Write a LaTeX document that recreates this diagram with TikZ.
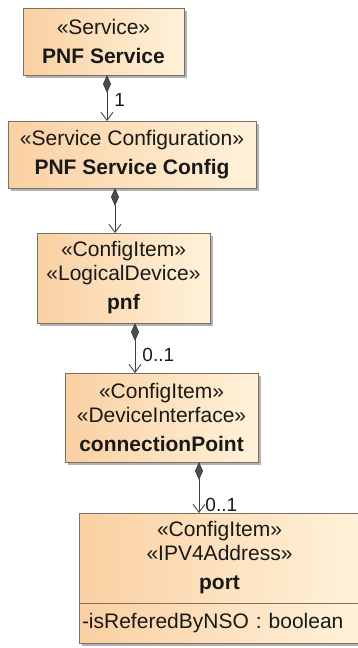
\documentclass[tikz,border=0pt]{standalone}
\usepackage{fontspec}
\setmainfont{Liberation Sans}
\usetikzlibrary{arrows.meta, shadows}
\definecolor{clsline}{RGB}{125,112,98}
\definecolor{clsdark}{RGB}{250,208,162}
\definecolor{clslight}{RGB}{255,242,218}
\tikzset{x=1pt, y=-1pt, % one unit is one pixel of the drawing
cls/.style={ % Sets the properties for each class box
  draw=clsline, line width=0.9pt,
  left color=clsdark, right color=clslight,
  drop shadow={shadow xshift=3pt, shadow yshift=-3pt, fill=black!30, opacity=1},
  inner sep=0pt, outer sep=0pt, anchor=north west, align=center,
  font=\fontsize{21}{24}\selectfont, text=black!90},
comp/.style={ % Composition: filled diamond at the owner, open head at the part
  draw=black!75, line width=0.9pt,
  {Diamond[length=18pt,width=8pt,fill=black!70]}-{Straight Barb[length=8pt,width=12pt]}},
mult/.style={ % Multiplicity labels
  font=\fontsize{19}{22}\selectfont, text=black!90, inner sep=1pt, anchor=west}}

\begin{document}
\begin{tikzpicture}
    \useasboundingbox (0,0) rectangle (358,648);
    \clip (0,0) rectangle (358,648);

    \node[cls, minimum width=161pt, minimum height=67pt] (svc) at (23,8) {«Service»\\[5pt]\textbf{PNF Service}};
    \node[cls, minimum width=248pt, minimum height=67pt] (cfg) at (8,121) {«Service Configuration»\\[5pt]\textbf{PNF Service Config}};
    \node[cls, minimum width=173pt, minimum height=90pt] (ld) at (37,233) {«ConfigItem»\\«LogicalDevice»\\[5pt]\textbf{pnf}};
    \node[cls, minimum width=193pt, minimum height=89pt] (cp) at (65,373) {«ConfigItem»\\«DeviceInterface»\\[5pt]\textbf{connectionPoint}};
    \node[cls, minimum width=281pt, minimum height=90pt] (port) at (79,513) {«ConfigItem»\\«IPV4Address»\\[5pt]\textbf{port}};
    \node[cls, minimum height=40pt, text width=275pt, inner xsep=3pt, align=left] (attr) at (79,603) {-isReferedByNSO : boolean};

    \coordinate (x1) at (107,0);
    \coordinate (x2) at (115,0);
    \coordinate (x3) at (135,0);
    \coordinate (x4) at (199,0);

    \draw[comp] (svc.south -| x1) -- node[mult, pos=0.54, xshift=6pt] {1} (cfg.north -| x1);
    \draw[comp] (cfg.south -| x2) -- (ld.north -| x2);
    \draw[comp] (ld.south -| x3) -- node[mult, pos=0.64, xshift=6pt] {0..1} (cp.north -| x3);
    \draw[comp] (cp.south -| x4) -- node[mult, pos=0.84, xshift=5pt] {0..1} (port.north -| x4);

\end{tikzpicture}
\end{document}
